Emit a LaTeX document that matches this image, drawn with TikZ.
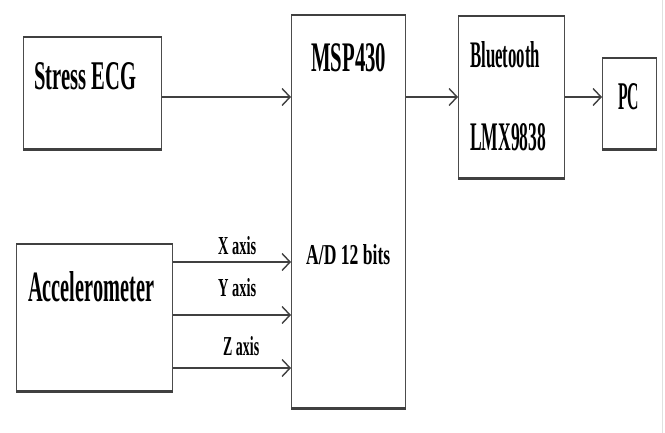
\documentclass[tikz,border=0pt]{standalone}
\usepackage{fontspec}
\setmainfont{Liberation Serif}
\usepackage{graphicx}
\usetikzlibrary{arrows.meta}
\tikzset{
  blk/.style={draw=black!70, line width=1.3pt, fill=white, inner sep=0pt, anchor=north west},
  edge/.style={draw=black!75, line width=2.6pt, line cap=butt},
  arr/.style={draw=black!75, line width=2.4pt, -{Straight Barb[length=8pt,width=17pt,line width=1.4pt]}},
  lbl/.style={inner sep=0pt, anchor=north west, text=black}
}
\newcommand{\fitt}[3]{\resizebox{#1pt}{#2pt}{\bfseries #3}}
\newcommand{\blkbox}[5]{%
  \node[blk, minimum width=#4pt, minimum height=#5pt] (#1) at (#2pt,-#3pt) {};
  \draw[edge] (#1.north west) -- (#1.north east);
  \draw[edge] (#1.south west) -- (#1.south east);}
\begin{document}
\begin{tikzpicture}[x=1pt,y=1pt]
\useasboundingbox[fill=white] (0,0) rectangle (665,-433);
\draw[black!12, line width=0.8pt] (662,0) -- (662,-433);
% boxes
\blkbox{ecg}{23}{37}{138}{111}
\blkbox{msp}{291}{15}{114}{392}
\blkbox{bt}{458}{16}{106}{161}
\blkbox{pc}{602}{58}{54}{90}
\blkbox{acc}{16}{244}{156}{146}
% texts
\node[lbl] (tecg) at (34,-62) {\fitt{102}{27}{Stress ECG}};
\node[lbl] (tmsp) at (311,-43) {\fitt{75}{28}{MSP430}};
\node[lbl] (tad) at (306,-244) {\fitt{84}{20}{A/D 12 bits}};
\node[lbl] (tbt1) at (470,-41) {\fitt{70}{26}{Bluetooth}};
\node[lbl] (tbt2) at (470,-123) {\fitt{76}{27}{LMX9838}};
\node[lbl] (tpc) at (618,-83) {\fitt{21}{26}{PC}};
\node[lbl] (tacc) at (28,-271) {\fitt{126}{30}{Accelerometer}};
\node[lbl] (tx) at (218,-236) {\fitt{38}{18}{X axis}};
\node[lbl] (ty) at (218,-278) {\fitt{38}{18}{Y axis}};
\node[lbl] (tz) at (223,-336) {\fitt{36}{19}{Z axis}};
% connector rows
\coordinate (r0) at (0,-97);
\coordinate (r1) at (0,-262);
\coordinate (r2) at (0,-315);
\coordinate (r3) at (0,-368);
\draw[arr] (ecg.east |- r0) -- (msp.west |- r0);
\draw[arr] (msp.east |- r0) -- (bt.west |- r0);
\draw[arr] (bt.east |- r0) -- (pc.west |- r0);
\draw[arr] (acc.east |- r1) -- (msp.west |- r1);
\draw[arr] (acc.east |- r2) -- (msp.west |- r2);
\draw[arr] (acc.east |- r3) -- (msp.west |- r3);
\end{tikzpicture}
\end{document}
